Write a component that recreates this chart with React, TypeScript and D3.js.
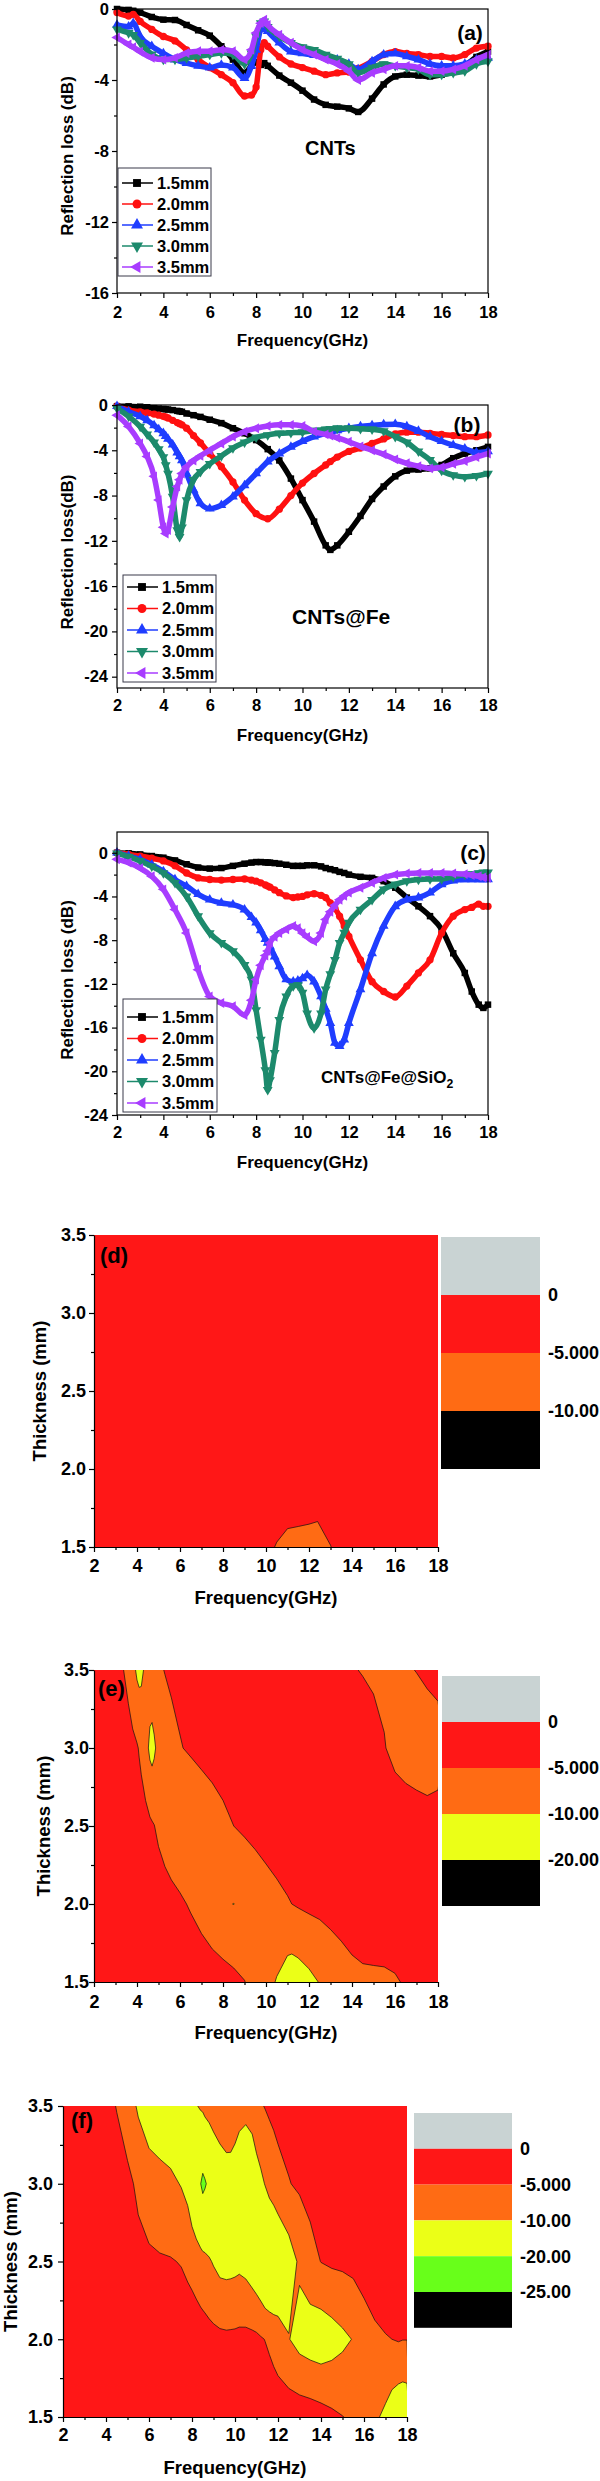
import React, { useEffect, useRef } from 'react';
import * as d3 from 'd3';

const thicknessLabels = ['1.5mm', '2.0mm', '2.5mm', '3.0mm', '3.5mm'];

// (a) CNTs
const freqA = [2, 2.5, 2.7, 3, 3.5, 4, 4.5, 5, 5.5, 6, 6.5, 7, 7.5, 7.8, 8, 8.2, 8.35, 8.5, 9, 9.5, 10, 10.5, 11, 11.5, 12, 12.4, 13, 13.5, 14, 14.5, 15, 15.5, 16, 16.5, 17, 17.5, 18];
const rlA15 = [0, -0.05, -0.1, -0.2, -0.45, -0.6, -0.62, -0.9, -1.2, -1.5, -2.1, -2.85, -3.6, -3.2, -3.0, -3.15, -3.05, -3.2, -3.75, -4.15, -4.6, -5.1, -5.4, -5.5, -5.6, -5.8, -5.05, -4.25, -3.8, -3.7, -3.75, -3.8, -3.7, -3.55, -3.2, -2.7, -2.4];
const rlA20 = [-0.2, -0.4, -0.3, -0.7, -1.15, -1.55, -1.8, -2.3, -2.85, -3.3, -3.7, -4.15, -4.9, -4.85, -4.4, -2.3, -1.9, -2.1, -2.7, -3.1, -3.3, -3.5, -3.7, -3.6, -3.55, -3.35, -2.95, -2.57, -2.4, -2.5, -2.57, -2.67, -2.67, -2.76, -2.57, -2.2, -2.1];
const rlA25 = [-0.9, -1.0, -0.8, -1.55, -2.1, -2.5, -2.85, -3.05, -3.2, -3.3, -3.15, -3.3, -3.9, -3.2, -2.3, -1.15, -1.0, -1.25, -1.9, -2.4, -2.5, -2.6, -2.76, -2.85, -3.1, -3.4, -2.95, -2.57, -2.5, -2.67, -2.85, -3.1, -3.2, -3.2, -3.1, -2.85, -2.76];
const rlA30 = [-1.15, -1.35, -1.45, -1.9, -2.55, -2.85, -2.85, -2.76, -2.67, -2.57, -2.48, -2.57, -3.1, -2.5, -1.55, -0.8, -0.7, -1.0, -1.55, -1.9, -2.15, -2.3, -2.57, -2.8, -3.1, -3.6, -3.3, -3.1, -3.2, -3.3, -3.4, -3.7, -3.7, -3.6, -3.5, -3.1, -2.95];
const rlA35 = [-1.6, -2.0, -2.15, -2.4, -2.75, -2.85, -2.75, -2.48, -2.38, -2.38, -2.3, -2.38, -2.85, -2.3, -1.35, -0.8, -0.6, -0.9, -1.45, -1.9, -2.3, -2.57, -2.85, -3.1, -3.5, -4.0, -3.6, -3.4, -3.2, -3.2, -3.3, -3.5, -3.5, -3.4, -3.2, -2.85, -2.57];

// (b) CNTs@Fe
const freqB = [2, 2.5, 3, 3.3, 3.6, 3.8, 4, 4.1, 4.2, 4.4, 4.6, 4.7, 4.8, 5, 5.3, 5.6, 6, 6.5, 7, 7.5, 8, 8.5, 9, 9.5, 10, 10.5, 11, 11.2, 11.5, 12, 12.5, 13, 13.5, 14, 14.5, 15, 15.5, 16, 16.5, 17, 17.5, 18];
const rlB15 = [-0.1, -0.12, -0.15, -0.2, -0.28, -0.32, -0.35, -0.38, -0.4, -0.45, -0.52, -0.56, -0.6, -0.75, -0.9, -1.05, -1.3, -1.6, -2.05, -2.5, -3.1, -3.9, -4.9, -6.5, -8.4, -10.3, -12.4, -12.8, -12.4, -11.2, -9.8, -8.3, -7.2, -6.3, -5.8, -5.7, -5.6, -5.3, -4.7, -4.3, -4.0, -3.7];
const rlB20 = [-0.1, -0.45, -0.6, -0.7, -0.8, -0.9, -1.0, -1.05, -1.15, -1.35, -1.55, -1.65, -1.75, -2.05, -2.7, -3.35, -4.3, -5.45, -6.8, -8.4, -9.6, -10.05, -9.2, -8.0, -6.9, -6.05, -5.3, -5.0, -4.6, -4.1, -3.8, -3.4, -3.0, -2.55, -2.4, -2.4, -2.5, -2.6, -2.7, -2.8, -2.8, -2.65];
const rlB25 = [-0.1, -0.6, -1.0, -1.35, -1.8, -2.15, -2.5, -2.75, -3.0, -3.5, -4.2, -4.55, -4.9, -6.05, -7.5, -8.7, -9.15, -8.85, -8.1, -7.1, -6.05, -5.0, -4.3, -3.7, -3.2, -2.8, -2.5, -2.4, -2.25, -2.05, -1.9, -1.8, -1.72, -1.7, -1.9, -2.3, -2.8, -3.2, -3.55, -3.85, -4.2, -4.1];
const rlB30 = [-0.3, -1.0, -1.9, -2.6, -3.3, -3.9, -4.6, -5.3, -6.05, -8.1, -11.05, -11.65, -10.8, -8.4, -6.6, -5.9, -5.2, -4.5, -3.8, -3.3, -2.85, -2.65, -2.5, -2.45, -2.4, -2.25, -2.15, -2.1, -2.05, -2.05, -2.1, -2.15, -2.3, -2.8, -3.3, -4.1, -4.85, -5.8, -6.2, -6.35, -6.25, -6.05];
const rlB35 = [-0.9, -1.9, -3.4, -4.55, -6.3, -8.4, -10.8, -11.35, -11.05, -9.0, -7.2, -6.6, -6.05, -5.45, -4.9, -4.5, -4.0, -3.4, -2.8, -2.35, -2.05, -1.85, -1.75, -1.75, -1.85, -2.35, -2.6, -2.7, -2.9, -3.25, -3.65, -4.0, -4.35, -4.8, -5.15, -5.4, -5.6, -5.5, -5.2, -4.95, -4.6, -4.3];

// (c) CNTs@Fe@SiO2
const freqC = [2, 2.5, 3, 3.5, 4, 4.5, 5, 5.5, 6, 6.5, 7, 7.5, 7.8, 8, 8.2, 8.4, 8.5, 8.6, 8.8, 9, 9.3, 9.6, 9.8, 10, 10.2, 10.5, 10.8, 11, 11.2, 11.4, 11.6, 11.8, 12, 12.5, 13, 13.5, 14, 14.5, 15, 15.5, 16, 16.5, 17, 17.3, 17.6, 17.8, 18];
const rlC15 = [0, -0.05, -0.15, -0.3, -0.45, -0.7, -1.05, -1.35, -1.45, -1.4, -1.2, -1.0, -0.9, -0.85, -0.85, -0.88, -0.9, -0.9, -0.95, -1.0, -1.1, -1.2, -1.2, -1.2, -1.15, -1.15, -1.25, -1.4, -1.5, -1.6, -1.75, -1.85, -2.0, -2.2, -2.3, -2.6, -3.2, -4.1, -4.9, -5.8, -7.0, -9.2, -11.0, -12.7, -13.9, -14.2, -13.9];
const rlC20 = [0, -0.15, -0.3, -0.5, -0.75, -1.2, -1.85, -2.3, -2.45, -2.5, -2.45, -2.4, -2.5, -2.6, -2.75, -2.95, -3.05, -3.15, -3.4, -3.65, -3.95, -4.1, -4.05, -4.0, -3.85, -3.75, -3.9, -4.1, -4.6, -5.1, -5.8, -6.7, -7.65, -9.8, -11.8, -12.7, -13.2, -12.2, -11.0, -9.8, -7.35, -5.8, -5.2, -5.0, -4.7, -4.9, -4.9];
const rlC25 = [0, -0.3, -0.6, -1.1, -1.7, -2.45, -3.05, -3.8, -4.3, -4.6, -4.75, -5.2, -5.9, -6.4, -7.1, -7.9, -8.25, -8.6, -9.5, -10.4, -11.6, -11.8, -11.7, -11.5, -11.2, -11.8, -13.15, -14.3, -15.6, -17.4, -17.7, -17.1, -15.6, -12.5, -9.2, -6.7, -4.9, -4.3, -4.1, -3.65, -2.9, -2.55, -2.45, -2.45, -2.45, -2.45, -2.45];
const rlC30 = [-0.05, -0.35, -0.75, -1.25, -1.85, -2.75, -4.0, -5.8, -7.35, -8.25, -9.0, -10.25, -11.6, -14.4, -17.1, -19.9, -21.7, -20.8, -18.3, -15.3, -13.15, -12.2, -12.1, -12.8, -14.7, -16.05, -14.7, -12.5, -11.1, -9.8, -8.25, -7.3, -6.4, -5.2, -4.3, -3.35, -2.9, -2.6, -2.45, -2.4, -2.4, -2.2, -2.0, -1.95, -1.85, -1.8, -1.8];
const rlC35 = [-0.6, -0.9, -1.4, -2.15, -3.35, -5.2, -7.35, -10.7, -13.15, -13.75, -14.05, -14.85, -13.5, -11.6, -10.3, -9.4, -9.0, -8.25, -7.7, -7.35, -7.0, -6.7, -6.9, -7.35, -7.7, -8.1, -7.35, -6.1, -5.4, -4.8, -4.3, -3.95, -3.65, -3.2, -2.75, -2.3, -2.0, -1.9, -1.85, -1.85, -1.85, -1.9, -1.95, -2.05, -2.15, -2.25, -2.3];

const FONT = "'Liberation Sans', Arial, Helvetica, sans-serif";
const lineColors = ['#000000', '#ff1010', '#1f3dff', '#1c8a6c', '#a83cff'];
const markerShapes = [d3.symbolSquare, d3.symbolCircle, d3.symbolTriangle, d3.symbolTriangle, d3.symbolTriangle];
const markerTurns = [0, 0, 0, 180, -90];

const GRAY = '#c9d3d3';
const RED = '#ff1717';
const ORANGE = '#ff6b14';
const YELLOW = '#ebff17';
const GREEN = '#68ff1a';
const BLACK = '#000000';

const styleAxis = (g: any, fs: number) => {
    g.attr('font-family', FONT).attr('font-size', fs).attr('font-weight', 'bold');
    g.selectAll('line').attr('stroke-width', 1.2);
    g.selectAll('.domain').attr('stroke-width', 1.2);
};

function drawLinePanel(svg: any, p: any) {
    const x = d3.scaleLinear().domain([2, 18]).range([p.left, p.right]);
    const y = d3.scaleLinear().domain(p.yDomain).range([p.bottom, p.top]);
    const g = svg.append('g').attr('font-family', FONT).attr('font-weight', 'bold');

    const line = d3.line<[number, number]>().curve(d3.curveMonotoneX);
    p.series.forEach((vals: number[], i: number) => {
        const pts = p.freqs.map((f: number, j: number) => [x(f), y(vals[j])] as [number, number]);
        g.append('path')
            .attr('d', line(pts))
            .attr('fill', 'none')
            .attr('stroke', lineColors[i])
            .attr('stroke-width', 5.5)
            .attr('stroke-linejoin', 'round');
        const sym = d3.symbol().type(markerShapes[i]).size(42);
        g.append('g').selectAll('path').data(pts).join('path')
            .attr('d', sym())
            .attr('transform', (d: [number, number]) => `translate(${d[0]},${d[1]}) rotate(${markerTurns[i]})`)
            .attr('fill', lineColors[i]);
    });

    g.append('rect')
        .attr('x', p.left).attr('y', p.top)
        .attr('width', p.right - p.left).attr('height', p.bottom - p.top)
        .attr('fill', 'none').attr('stroke', '#000').attr('stroke-width', 1.2);

    const fs = 16.5;
    const xAx = g.append('g').attr('transform', `translate(0,${p.bottom})`)
        .call(d3.axisBottom(x).tickValues(d3.range(2, 19, 2)).tickSize(5).tickSizeOuter(0)
            .tickPadding(p.xLabelY - p.bottom - 5 - 0.35 * fs).tickFormat((d: any) => String(d)));
    xAx.select('.domain').remove();
    styleAxis(xAx, fs);
    const xMin = g.append('g').attr('transform', `translate(0,${p.bottom})`)
        .call(d3.axisBottom(x).tickValues(d3.range(3, 18, 2)).tickSize(3).tickFormat(() => ''));
    xMin.select('.domain').remove();
    styleAxis(xMin, fs);

    const yAx = g.append('g').attr('transform', `translate(${p.left},0)`)
        .call(d3.axisLeft(y).tickValues(p.yTicks).tickSize(5).tickSizeOuter(0)
            .tickPadding(p.left - p.tickRight - 5).tickFormat((d: any) => String(d)));
    yAx.select('.domain').remove();
    styleAxis(yAx, fs);
    const yMin = g.append('g').attr('transform', `translate(${p.left},0)`)
        .call(d3.axisLeft(y).tickValues(p.yMinor).tickSize(3).tickFormat(() => ''));
    yMin.select('.domain').remove();
    styleAxis(yMin, fs);

    g.append('text')
        .attr('x', (p.left + p.right) / 2).attr('y', p.titleY).attr('dy', '0.35em')
        .attr('text-anchor', 'middle').attr('font-size', 17)
        .text('Frequency(GHz)');
    g.append('text')
        .attr('transform', `translate(${p.yTitleX},${p.yTitleY}) rotate(-90)`)
        .attr('dy', '0.35em').attr('text-anchor', 'middle').attr('font-size', 17)
        .text(p.yTitle);

    // legend
    const L = p.legend;
    const lg = g.append('g');
    lg.append('rect')
        .attr('x', L.x).attr('y', L.y).attr('width', L.w).attr('height', L.h)
        .attr('fill', '#fff').attr('stroke', '#3a3a4a').attr('stroke-width', 1);
    thicknessLabels.forEach((lab, i) => {
        const cy = L.row0 + i * L.step;
        lg.append('line')
            .attr('x1', L.x + 4).attr('x2', L.x + 35).attr('y1', cy).attr('y2', cy)
            .attr('stroke', lineColors[i]).attr('stroke-width', 1.5);
        lg.append('path')
            .attr('d', d3.symbol().type(markerShapes[i]).size(62)())
            .attr('transform', `translate(${L.x + 19},${cy}) rotate(${markerTurns[i]})`)
            .attr('fill', lineColors[i]);
        lg.append('text')
            .attr('x', L.x + 39).attr('y', cy).attr('dy', '0.35em')
            .attr('font-size', 16.5).text(lab);
    });

    g.append('text')
        .attr('x', p.tagX).attr('y', p.tagY).attr('dy', '0.35em')
        .attr('text-anchor', 'middle').attr('font-size', 21).text(p.tag);

    const nm = g.append('text')
        .attr('x', p.nameX).attr('y', p.nameY).attr('dy', '0.35em')
        .attr('font-size', p.nameSize);
    nm.append('tspan').text(p.name);
    if (p.nameSub) {
        nm.append('tspan').attr('font-size', p.nameSize * 0.72).attr('dy', '0.45em').text(p.nameSub);
    }
}

function drawContourPanel(svg: any, p: any) {
    const x = d3.scaleLinear().domain([2, 18]).range([p.left, p.right]);
    const y = d3.scaleLinear().domain([1.5, 3.5]).range([p.bottom, p.top]);
    const g = svg.append('g').attr('font-family', FONT).attr('font-weight', 'bold');

    const n = p.freqs.length;
    const m = p.series.length;
    const values: number[] = [];
    p.series.forEach((row: number[]) => row.forEach((v) => values.push(-v)));
    const bands = d3.contours().size([n, m]).thresholds(p.thresholds)(values);

    const idxToFreq = d3.scaleLinear().domain(d3.range(n)).range(p.freqs);
    const rowToThk = d3.scaleLinear().domain([0, m - 1]).range([1.5, 3.5]);
    const proj = d3.geoTransform({
        point: function (this: any, px: number, py: number) {
            this.stream.point(x(idxToFreq(px - 0.5)), y(rowToThk(py - 0.5)));
        },
    });
    const path = d3.geoPath(proj);

    const clipId = `clip-${p.tag.replace(/[()]/g, '')}`;
    g.append('clipPath').attr('id', clipId)
        .append('rect').attr('x', p.left).attr('y', p.top)
        .attr('width', p.right - p.left).attr('height', p.bottom - p.top);

    const plot = g.append('g').attr('clip-path', `url(#${clipId})`);
    plot.append('rect').attr('x', p.left).attr('y', p.top)
        .attr('width', p.right - p.left).attr('height', p.bottom - p.top)
        .attr('fill', RED);
    plot.selectAll('path.band').data(bands).join('path')
        .attr('class', 'band')
        .attr('d', (d: any) => path(d))
        .attr('fill', (_: any, i: number) => p.fills[i])
        .attr('stroke', '#111').attr('stroke-width', 0.7);

    const fs = 18;
    const xAx = g.append('g').attr('transform', `translate(0,${p.bottom})`)
        .call(d3.axisBottom(x).tickValues(d3.range(2, 19, 2)).tickSize(5).tickSizeOuter(0)
            .tickPadding(p.xLabelY - p.bottom - 5 - 0.35 * fs).tickFormat((d: any) => String(d)));
    styleAxis(xAx, fs);
    const xMin = g.append('g').attr('transform', `translate(0,${p.bottom})`)
        .call(d3.axisBottom(x).tickValues(d3.range(3, 18, 2)).tickSize(3).tickFormat(() => ''));
    xMin.select('.domain').remove();
    styleAxis(xMin, fs);

    const yAx = g.append('g').attr('transform', `translate(${p.left},0)`)
        .call(d3.axisLeft(y).tickValues([1.5, 2, 2.5, 3, 3.5]).tickSize(5).tickSizeOuter(0)
            .tickPadding(p.left - p.tickRight - 5).tickFormat(d3.format('.1f') as any));
    styleAxis(yAx, fs);
    const yMin = g.append('g').attr('transform', `translate(${p.left},0)`)
        .call(d3.axisLeft(y).tickValues([1.75, 2.25, 2.75, 3.25]).tickSize(3).tickFormat(() => ''));
    yMin.select('.domain').remove();
    styleAxis(yMin, fs);

    g.append('text')
        .attr('x', (p.left + p.right) / 2).attr('y', p.titleY).attr('dy', '0.35em')
        .attr('text-anchor', 'middle').attr('font-size', 18.5)
        .text('Frequency(GHz)');
    g.append('text')
        .attr('transform', `translate(${p.yTitleX},${(p.top + p.bottom) / 2}) rotate(-90)`)
        .attr('dy', '0.35em').attr('text-anchor', 'middle').attr('font-size', 18.5)
        .text('Thickness (mm)');

    g.append('text')
        .attr('x', p.tagX).attr('y', p.tagY).attr('dy', '0.35em')
        .attr('font-size', 22).text(p.tag);

    // colour bar
    const B = p.bar;
    B.colors.forEach((c: string, i: number) => {
        g.append('rect')
            .attr('x', B.x).attr('y', B.top + i * B.seg)
            .attr('width', B.w).attr('height', B.seg)
            .attr('fill', c);
    });
    B.labels.forEach((lab: string, i: number) => {
        g.append('text')
            .attr('x', B.textX).attr('y', B.top + (i + 1) * B.seg).attr('dy', '0.35em')
            .attr('font-size', 18).text(lab);
    });
}

const App: React.FC = () => {
    const ref = useRef<SVGSVGElement>(null);

    useEffect(() => {
        if (!ref.current) return;
        const svg = d3.select(ref.current);
        svg.selectAll('*').remove();

        drawLinePanel(svg, {
            left: 117, right: 488, top: 9, bottom: 293, yDomain: [-16, 0],
            yTicks: [0, -4, -8, -12, -16], yMinor: [-2, -6, -10, -14],
            freqs: freqA, series: [rlA15, rlA20, rlA25, rlA30, rlA35],
            xLabelY: 312, titleY: 340, tickRight: 109,
            yTitle: 'Reflection loss (dB)', yTitleX: 67, yTitleY: 156,
            legend: { x: 118, y: 168, w: 93, h: 108, row0: 183, step: 21 },
            tag: '(a)', tagX: 470, tagY: 33,
            name: 'CNTs', nameX: 305, nameY: 148, nameSize: 20,
        });

        drawLinePanel(svg, {
            left: 117, right: 488, top: 405, bottom: 688, yDomain: [-25, 0],
            yTicks: [0, -4, -8, -12, -16, -20, -24], yMinor: [-2, -6, -10, -14, -18, -22],
            freqs: freqB, series: [rlB15, rlB20, rlB25, rlB30, rlB35],
            xLabelY: 705, titleY: 735, tickRight: 108,
            yTitle: 'Reflection loss(dB)', yTitleX: 67, yTitleY: 552,
            legend: { x: 123, y: 575, w: 93, h: 107, row0: 587, step: 21.5 },
            tag: '(b)', tagX: 467, tagY: 425,
            name: 'CNTs@Fe', nameX: 292, nameY: 617, nameSize: 21,
        });

        drawLinePanel(svg, {
            left: 117, right: 488, top: 832, bottom: 1115, yDomain: [-24, 1.9],
            yTicks: [0, -4, -8, -12, -16, -20, -24], yMinor: [-2, -6, -10, -14, -18, -22],
            freqs: freqC, series: [rlC15, rlC20, rlC25, rlC30, rlC35],
            xLabelY: 1132, titleY: 1162, tickRight: 108,
            yTitle: 'Reflection loss (dB)', yTitleX: 67, yTitleY: 980,
            legend: { x: 123, y: 999, w: 94, h: 113, row0: 1017, step: 21.5 },
            tag: '(c)', tagX: 473, tagY: 853,
            name: 'CNTs@Fe@SiO', nameSub: '2', nameX: 321, nameY: 1077, nameSize: 17,
        });

        drawContourPanel(svg, {
            left: 94, right: 438, top: 1235, bottom: 1547,
            freqs: freqA, series: [rlA15, rlA20, rlA25, rlA30, rlA35],
            thresholds: [5, 10], fills: [ORANGE, BLACK],
            xLabelY: 1566, titleY: 1598, tickRight: 86, yTitleX: 40,
            tag: '(d)', tagX: 100, tagY: 1255,
            bar: { x: 441, w: 99, top: 1237, seg: 58, textX: 548,
                colors: [GRAY, RED, ORANGE, BLACK], labels: ['0', '-5.000', '-10.00'] },
        });

        drawContourPanel(svg, {
            left: 94, right: 438, top: 1670, bottom: 1982,
            freqs: freqB, series: [rlB15, rlB20, rlB25, rlB30, rlB35],
            thresholds: [5, 10, 20], fills: [ORANGE, YELLOW, BLACK],
            xLabelY: 2002, titleY: 2033, tickRight: 89, yTitleX: 44,
            tag: '(e)', tagX: 98, tagY: 1688,
            bar: { x: 442, w: 98, top: 1676, seg: 46, textX: 548,
                colors: [GRAY, RED, ORANGE, YELLOW, BLACK], labels: ['0', '-5.000', '-10.00', '-20.00'] },
        });

        drawContourPanel(svg, {
            left: 63, right: 407, top: 2106, bottom: 2417,
            freqs: freqC, series: [rlC15, rlC20, rlC25, rlC30, rlC35],
            thresholds: [5, 10, 20, 25], fills: [ORANGE, YELLOW, GREEN, BLACK],
            xLabelY: 2435, titleY: 2468, tickRight: 53, yTitleX: 11,
            tag: '(f)', tagX: 71, tagY: 2120,
            bar: { x: 414, w: 98, top: 2113, seg: 35.8, textX: 520,
                colors: [GRAY, RED, ORANGE, YELLOW, GREEN, BLACK], labels: ['0', '-5.000', '-10.00', '-20.00', '-25.00'] },
        });
    }, []);

    return (
        <svg
            ref={ref}
            width={600}
            height={2481}
            style={{ position: 'absolute', left: 0, top: 0, background: '#fff' }}
        />
    );
};

export default App;
